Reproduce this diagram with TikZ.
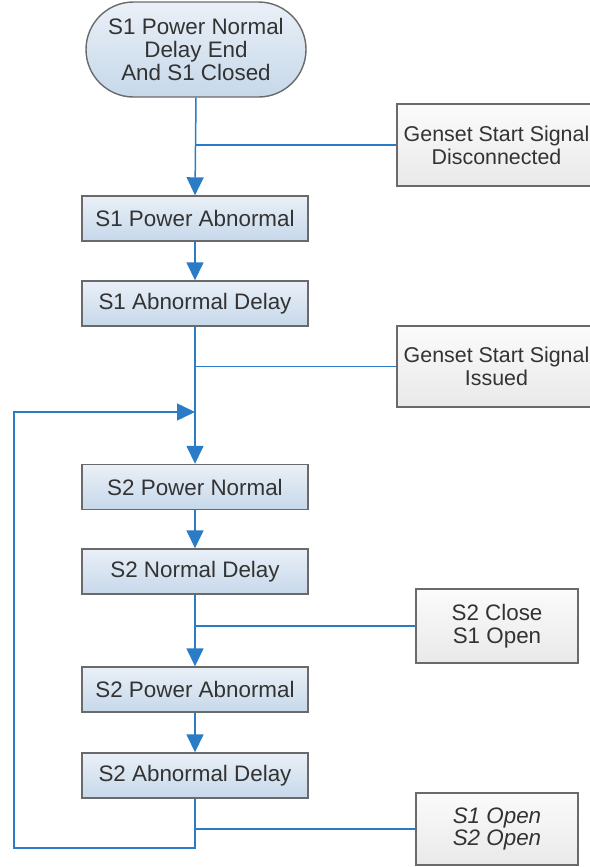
\documentclass[tikz,border=0pt]{standalone}
\usepackage{fontspec}
\setmainfont{Liberation Sans}
\usetikzlibrary{shapes.misc,arrows.meta}

\definecolor{flowblue}{HTML}{2A7CC6}
\definecolor{edgegray}{HTML}{6A6A6A}
\definecolor{textgray}{HTML}{333333}
\definecolor{statetop}{HTML}{EAF0F7}
\definecolor{statebot}{HTML}{C6D8EA}
\definecolor{actiontop}{HTML}{FBFBFB}
\definecolor{actionbot}{HTML}{E9E9E9}

\tikzset{
  boxtext/.style={text=textgray, align=center, inner sep=0pt,
    font=\fontsize{11.2}{11.4}\selectfont},
  terminal/.style={boxtext, rounded rectangle, draw=edgegray, line width=0.7pt,
    top color=statetop, bottom color=statebot,
    minimum width=110pt, minimum height=47.5pt},
  state/.style={boxtext, rectangle, draw=edgegray, line width=0.7pt,
    top color=statetop, bottom color=statebot,
    minimum width=113pt, minimum height=22.5pt},
  action/.style={boxtext, rectangle, draw=edgegray, line width=0.7pt,
    top color=actiontop, bottom color=actionbot,
    minimum width=81pt},
  wideaction/.style={action, minimum width=99.5pt,
    font=\fontsize{10.7}{11.4}\selectfont},
  flow/.style={draw=flowblue, line width=0.75pt},
  flowarrow/.style={flow, -{Triangle[length=9pt,width=8.5pt]}}
}

\begin{document}
\begin{tikzpicture}[x=0.5pt, y=-0.5pt]
    \useasboundingbox (0,0) rectangle (589,867);

    % main chain
    \node[terminal] (start) at (196,49.5) {S1 Power Normal\\Delay End\\And S1 Closed};
    \node[state] (s1pa) at (195,218.5) {S1 Power Abnormal};
    \node[state] (s1ad) at (195,303.5) {S1 Abnormal Delay};
    \node[state] (s2pn) at (195,487)   {S2 Power Normal};
    \node[state] (s2nd) at (195,571.5) {S2 Normal Delay};
    \node[state] (s2pa) at (195,689.5) {S2 Power Abnormal};
    \node[state] (s2ad) at (195,775.5) {S2 Abnormal Delay};

    % actions on the right
    \node[wideaction, minimum height=41pt]   (gdisc) at (496.5,145)   {Genset Start Signal\\Disconnected};
    \node[wideaction, minimum height=40.5pt] (giss)  at (496.5,366.5) {Genset Start Signal\\Issued};
    \node[action, minimum height=37pt] (s2cl) at (497,626) {S2 Close\\S1 Open};
    \node[action, minimum height=36pt] (s1op) at (497,829) {\itshape S1 Open\\\itshape S2 Open};

    \coordinate (merge)  at (195,412);
    \coordinate (loopbl) at (14,848);

    \draw[flowarrow] (start.south) -- (s1pa.north);
    \draw[flowarrow] (s1pa.south) -- (s1ad.north);
    \draw[flowarrow] (s1ad.south) -- (s2pn.north);
    \draw[flowarrow] (s2pn.south) -- (s2nd.north);
    \draw[flowarrow] (s2nd.south) -- (s2pa.north);
    \draw[flowarrow] (s2pa.south) -- (s2ad.north);

    \draw[flow] (gdisc.west) -- (start |- gdisc.west);
    \draw[flow] (giss.west)  -- (start |- giss.west);
    \draw[flow] (s2cl.west)  -- (start |- s2cl.west);
    \draw[flow] (s1op.west)  -- (start |- s1op.west);

    % back loop
    \draw[flowarrow] (s2ad.south) |- (loopbl) |- (merge);
\end{tikzpicture}
\end{document}
